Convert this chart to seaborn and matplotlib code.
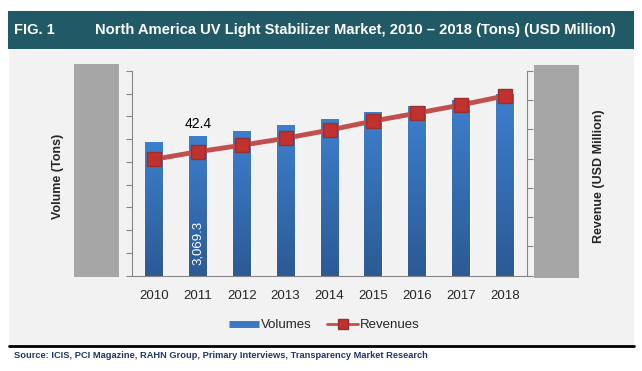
import numpy as np
import pandas as pd
import seaborn as sns
import matplotlib.pyplot as plt
from matplotlib.patches import Rectangle
from matplotlib.lines import Line2D
from matplotlib.colors import LinearSegmentedColormap

# values (left axis 0-4500 tons, right axis 0-70 USD Mn)
years = ['2010', '2011', '2012', '2013', '2014', '2015', '2016', '2017', '2018']
volumes = [2940, 3069.3, 3182, 3313, 3445, 3596, 3728, 3860, 3993]
revenues = [39.8, 42.4, 44.6, 47.0, 49.8, 52.9, 55.6, 58.4, 61.5]

df = pd.DataFrame({'year': years, 'volume': volumes, 'revenue': revenues})

sns.set_style('white')
plt.rcParams['font.family'] = ['Liberation Sans', 'DejaVu Sans']

fig = plt.figure(figsize=(6.42, 3.71), dpi=100)
W, H = 642, 371


def px_rect(x0, y0, x1, y1, **kw):
    # rectangle given in pixel coords from top-left
    r = Rectangle((x0 / W, 1 - y1 / H), (x1 - x0) / W, (y1 - y0) / H,
                  transform=fig.transFigure, **kw)
    fig.add_artist(r)
    return r


# background panel + title bar + grey side boxes
px_rect(9, 49, 634, 345, facecolor='#f2f2f2', edgecolor='none', zorder=0)
px_rect(8, 11, 634, 49, facecolor='#215967', edgecolor='none', zorder=0)
px_rect(74, 64, 119, 277, facecolor='#a6a6a6', edgecolor='none', zorder=0)
px_rect(534, 65, 579, 278, facecolor='#a6a6a6', edgecolor='none', zorder=0)
fig.add_artist(Line2D([9 / W, 634 / W], [1 - 345.5 / H] * 2, color='black', lw=2,
                      transform=fig.transFigure))

fig.text(14 / W, 1 - 30 / H, 'FIG. 1', color='white', fontsize=10.5, fontweight='bold', va='center')
fig.text(95 / W, 1 - 30 / H, 'North America UV Light Stabilizer Market, 2010 \u2013 2018 (Tons) (USD Million)',
         color='white', fontsize=10.6, fontweight='bold', va='center')
fig.text(14 / W, 1 - 355 / H, 'Source: ICIS, PCI Magazine, RAHN Group, Primary Interviews, Transparency Market Research',
         color='#1f3864', fontsize=6.7, fontweight='bold', va='center')

ax = fig.add_axes([132 / W, 1 - 275.7 / H, (527 - 132) / W, (275.7 - 71) / H])
ax.patch.set_alpha(0)

sns.barplot(data=df, x='year', y='volume', color='#3a78c3', width=0.41, ax=ax, zorder=2)
ax.set_ylim(0, 4500)
ax.set_yticks(np.arange(0, 4501, 500))
ax.set_yticklabels([])
ax.set_xlim(-0.5, len(years) - 0.5)
ax.set_xticks(np.arange(-0.5, len(years), 1))
ax.set_xticklabels([])
ax.set_xticks(np.arange(len(years)), minor=True)
ax.set_xticklabels(years, minor=True, fontsize=9.5)
ax.tick_params(axis='x', which='minor', length=0, pad=10)
ax.tick_params(axis='x', which='major', length=5, color='#868686', direction='out')
ax.tick_params(axis='y', length=4, color='#868686', direction='out')
ax.set_xlabel('')
ax.set_ylabel('')
for s in ['top', 'right']:
    ax.spines[s].set_visible(False)
for s in ['left', 'bottom']:
    ax.spines[s].set_color('#868686')

# vertical gradient on bars
cmap = LinearSegmentedColormap.from_list('bar', ['#2c5a94', '#3d7fcd'])
grad = np.linspace(0, 1, 256).reshape(-1, 1)
for p in ax.patches:
    x0, y0 = p.get_x(), p.get_y()
    im = ax.imshow(grad, cmap=cmap, origin='lower', aspect='auto', zorder=2,
                   extent=[x0, x0 + p.get_width(), y0, y0 + p.get_height()])
    im.set_clip_path(p)
    p.set_facecolor('none')
ax.set_xlim(-0.5, len(years) - 0.5)
ax.set_ylim(0, 4500)

ax.text(1, 230, f'{volumes[1]:,.1f}', rotation=90, color='white', fontsize=9.5,
        ha='center', va='bottom', zorder=5)

ax2 = ax.twinx()
sns.lineplot(x=np.arange(len(years)), y=revenues, ax=ax2, color='#c0504d', lw=3.5,
             marker='s', markersize=10, markerfacecolor='#c0312f', markeredgecolor='#9b2f2c',
             markeredgewidth=1, zorder=4)
ax2.set_ylim(0, 70)
ax2.set_yticks(np.arange(0, 71, 10))
ax2.set_yticklabels([])
ax2.tick_params(axis='y', length=4, color='#868686', direction='out')
for s in ['top', 'left', 'bottom']:
    ax2.spines[s].set_visible(False)
ax2.spines['right'].set_color('#868686')
ax2.text(1, 51.9, f'{revenues[1]}', color='black', fontsize=10,
         ha='center', va='center')

fig.text(58 / W, 1 - 176 / H, 'Volume (Tons)', rotation=90, fontsize=9,
         fontweight='bold', ha='center', va='center')
fig.text(599 / W, 1 - 176 / H, 'Revenue (USD Million)', rotation=90, fontsize=9,
         fontweight='bold', ha='center', va='center')

handles = [Line2D([], [], color='#3a78c3', lw=5, solid_capstyle='butt'),
           Line2D([], [], color='#c0504d', lw=2, marker='s', markersize=7,
                  markerfacecolor='#c0312f', markeredgecolor='#9b2f2c')]
fig.legend(handles, ['Volumes', 'Revenues'], loc='center', bbox_to_anchor=(324 / W, 1 - 325 / H),
           ncol=2, frameon=False, fontsize=9.5, handlelength=2.3, handletextpad=0.15,
           columnspacing=1.2)

fig.savefig('out.png', dpi=100)
